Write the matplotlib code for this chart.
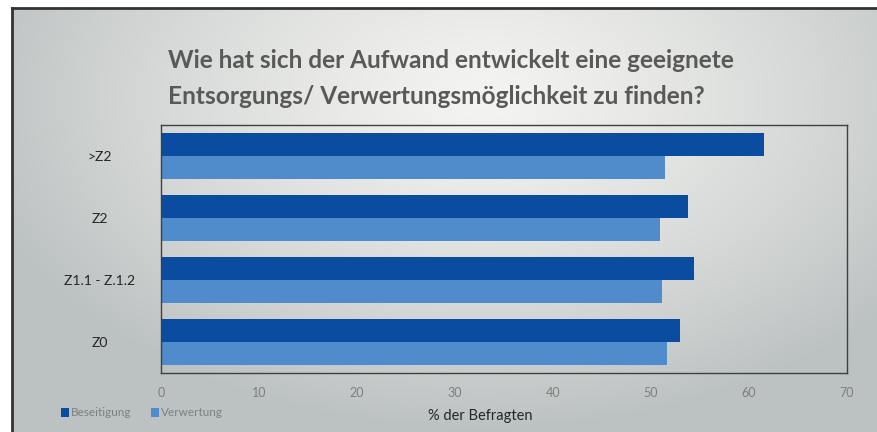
import matplotlib
matplotlib.use("Agg")
import matplotlib.pyplot as plt
import numpy as np

categories = [">Z2", "Z2", "Z1.1 - Z.1.2", "Z0"]
beseitigung = [61.5, 53.8, 54.4, 53.0]
verwertung = [51.4, 50.9, 51.1, 51.6]
xticks = [0, 10, 20, 30, 40, 50, 60, 70]

DARK = "#0a4ca0"
LIGHT = "#508bcb"
GREY_TXT = "#7f7f7f"

plt.rcParams["font.family"] = ["Lato", "DejaVu Sans"]

fig = plt.figure(figsize=(8.77, 4.32), dpi=100)
fig.patch.set_facecolor("white")

# background panel with soft radial gradient
bg = fig.add_axes([12 / 877, 0, 1 - 12 / 877, 1 - 8 / 432])
h, w = 424, 865
yy, xx = np.mgrid[0:h, 0:w]
d = np.sqrt(((xx - 470) / 520.0) ** 2 + ((yy - 90) / 330.0) ** 2)
d = np.clip(d, 0, 1)
c0 = np.array([0.955, 0.955, 0.945])
c1 = np.array([0.74, 0.76, 0.76])
img = c0 + (c1 - c0) * d[..., None] ** 1.3
bg.imshow(img, aspect="auto", extent=[0, 1, 0, 1], origin="upper")
bg.set_axis_off()
fig.add_artist(plt.Line2D([12 / 877, 1], [1 - 8 / 432, 1 - 8 / 432], color="#333333", lw=2, transform=fig.transFigure))
fig.add_artist(plt.Line2D([12 / 877, 12 / 877], [0, 1 - 8 / 432], color="#333333", lw=2, transform=fig.transFigure))

ax = fig.add_axes([161 / 877, 59 / 432, 686 / 877, 248 / 432])
ax.patch.set_alpha(0)
y = np.arange(len(categories))
bh = 0.37
ax.barh(y - bh / 2, beseitigung, height=bh, color=DARK, label="Beseitigung")
ax.barh(y + bh / 2, verwertung, height=bh, color=LIGHT, label="Verwertung")
ax.set_ylim(len(categories) - 0.5, -0.5)
ax.set_xlim(0, 70)
ax.set_xticks(xticks)
ax.set_xticklabels([str(t) for t in xticks], color=GREY_TXT, fontsize=9)
ax.set_yticks(y)
ax.set_yticklabels(categories, fontsize=10, color="#262626", ha="center")
ax.tick_params(axis="y", length=0, pad=44)
ax.tick_params(axis="x", length=0, pad=10)
for s in ax.spines.values():
    s.set_color("#404040")
    s.set_linewidth(1)

ax.set_xlabel("% der Befragten", fontsize=10.5, color="#262626")
ax.xaxis.set_label_coords(0.466, -0.145)

fig.text(168 / 877, 1 - 60 / 432, "Wie hat sich der Aufwand entwickelt eine geeignete",
         fontsize=17.6, fontweight="bold", color="#595959", va="center")
fig.text(168 / 877, 1 - 96 / 432, "Entsorgungs/ Verwertungsmöglichkeit zu finden?",
         fontsize=17.6, fontweight="bold", color="#595959", va="center")

leg = ax.legend(loc="center left", bbox_to_anchor=(50 / 877, 19 / 432), bbox_transform=fig.transFigure,
                ncol=2, frameon=False, fontsize=8.5, handlelength=0.7, handleheight=0.7,
                handletextpad=0.2, columnspacing=1.6)
for t in leg.get_texts():
    t.set_color(GREY_TXT)

fig.savefig("out.png", dpi=100)
